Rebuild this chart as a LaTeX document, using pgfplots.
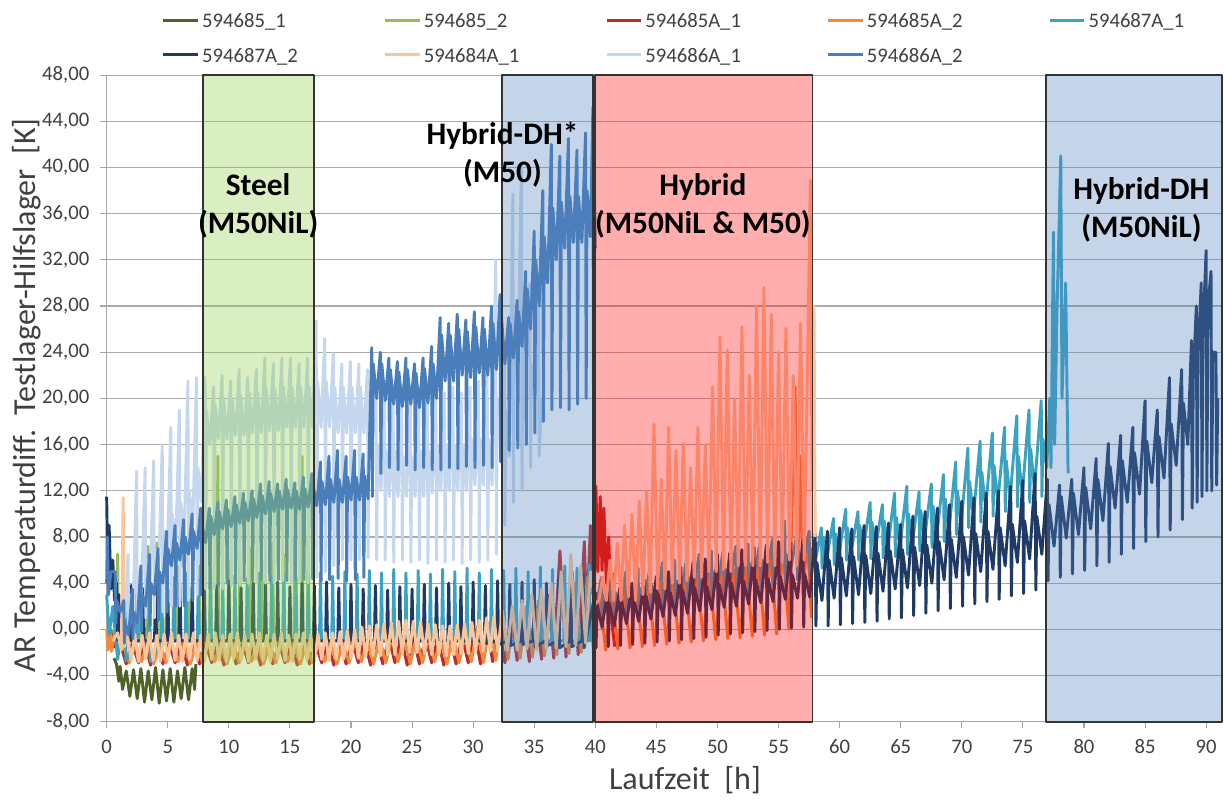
\documentclass[border=0pt]{standalone}
\usepackage{pgfplots}
\pgfplotsset{compat=1.18}
\usepackage{fontspec}
\setmainfont{Carlito}
\definecolor{cA}{HTML}{4F6228}
\definecolor{cB}{HTML}{9BBB59}
\definecolor{cC}{HTML}{BE2B2B}
\definecolor{cD}{HTML}{F08A3C}
\definecolor{cE}{HTML}{3BA3C2}
\definecolor{cF}{HTML}{1F3A64}
\definecolor{cG}{HTML}{FAC59A}
\definecolor{cH}{HTML}{C5D7EE}
\definecolor{cI}{HTML}{4A7EBB}
\definecolor{boxgreen}{HTML}{92D050}
\definecolor{boxblue}{HTML}{4F81BD}
\definecolor{boxred}{HTML}{FF0000}
\definecolor{axisgray}{HTML}{A6A6A6}
\definecolor{gridgray}{HTML}{ABABAB}
\definecolor{txtgray}{HTML}{404040}
\begin{document}
\begin{tikzpicture}
\begin{axis}[
  scale only axis, width=836.5pt, height=485pt,
  xmin=0, xmax=91.3, ymin=-8, ymax=48,
  clip=false,
  xtick={0,5,...,90}, ytick={-8,-4,...,48},
  axis x line*=bottom, axis y line*=left,
  axis line style={draw=axisgray, line width=0.8pt, -},
  tick align=outside, major tick length=5pt,
  tick style={draw=axisgray, line width=0.8pt},
  ymajorgrids, grid style={draw=gridgray, line width=0.8pt},
  /pgf/number format/assume math mode=true,
  yticklabel={\pgfmathprintnumber[fixed,fixed zerofill,precision=2,use comma]{\tick}},
  ticklabel style={font=\fontsize{15.5}{18}\selectfont, text=txtgray},
  yticklabel style={xshift=-4.5pt},
  xticklabel style={yshift=-5pt},
  xlabel={Laufzeit\ \ [h]},
  ylabel={AR Temperaturdiff.\ \ Testlager-Hilfslager\ \ [K]},
  every axis x label/.style={at={(axis description cs:0.5185,-0.091)}, anchor=center, font=\fontsize{24}{29}\selectfont, text=txtgray},
  every axis y label/.style={at={(axis description cs:-0.0715,0.505)}, anchor=center, rotate=90, font=\fontsize{24}{29}\selectfont, text=txtgray},
  legend columns=5,
  legend cell align=left,
  legend style={at={(axis description cs:0.0493,1.1048)}, anchor=north west, draw=none, fill=none,
    font=\fontsize{15.5}{19}\selectfont, text=txtgray, inner sep=0pt, row sep=7pt,
    /tikz/every even column/.append style={column sep=0pt}},
  legend image code/.code={\draw[#1, line width=2.2pt] (0pt,0pt) -- (26pt,0pt);},
  every axis plot/.append style={line width=2.2pt, line join=round, mark=none},
]
% 594685_1
\addplot[cA] coordinates {(0.6,-2.5)(0.8,-3.0)(1.0,-4.5)(1.1,-3.2)(1.3,-5.2)(1.6,-3.6)(1.9,-5.8)(2.2,-3.5)(2.5,-6.0)(2.8,-3.4)(3.1,-6.3)(3.4,-3.6)(3.7,-6.1)(4.0,-3.3)(4.3,-6.4)(4.6,-3.5)(4.9,-6.2)(5.2,-3.4)(5.5,-6.3)(5.8,-3.6)(6.1,-6.0)(6.4,-3.3)(6.7,-6.1)(7.0,-3.4)(7.2,-5.2)(7.3,-3.0)};
\addlegendentry{\makebox[134pt][l]{\strut 594685\_1}}
% 594685_2
\addplot[cB] coordinates {(0.5,0)(0.83,-1)(0.9,6.5)(0.97,-1)(1.73,-1)(1.8,3)(1.87,-1)(2.73,-1)(2.8,4.5)(2.87,-1)(3.33,-1)(3.4,7.2)(3.47,-1)(4.03,-1)(4.1,7.5)(4.17,-1)(4.83,-1)(4.9,5)(4.97,-1)(5.73,-1)(5.8,5.5)(5.87,-1)(6.63,-1)(6.7,6)(6.77,-1)(7.53,-1)(7.6,5.5)(7.67,-1)(8.43,-1)(8.5,6.5)(8.57,-1)(9.03,-1)(9.1,15)(9.17,-1)(9.93,-1)(10,6)(10.07,-1)(10.83,-1)(10.9,6.5)(10.97,-1)(11.73,-1)(11.8,7)(11.87,-1)(12.63,-1)(12.7,6)(12.77,-1)(13.53,-1)(13.6,7.5)(13.67,-1)(14.43,-1)(14.5,6.5)(14.57,-1)(15.33,-1)(15.4,8)(15.47,-1)(15.93,-1)(16.0,15)(16.07,-1)(16.43,-1)(16.5,8)(16.57,-1)(16.8,-1)};
\addlegendentry{\makebox[134pt][l]{\strut 594685\_2}}
% 594685A_1
\addplot[cC] coordinates {(0.3,0)(0.6,-1.5)(1.1,-1.2)(1.6,-3.0)(2.1,-1.2)(2.6,-2.9)(3.1,-1.2)(3.6,-3.1)(4.1,-1.2)(4.6,-3.0)(5.1,-1.2)(5.6,-2.9)(6.1,-1.2)(6.6,-3.1)(7.1,-1.2)(7.6,-3.0)(8.1,-1.2)(8.6,-2.9)(9.1,-1.2)(9.6,-3.1)(10.1,-1.2)(10.6,-3.0)(11.1,-1.2)(11.6,-2.9)(12.1,-1.2)(12.6,-3.1)(13.1,-1.2)(13.6,-3.0)(14.1,-1.2)(14.6,-2.9)(15.1,-1.2)(15.6,-3.1)(16.1,-1.2)(16.6,-3.0)(17.1,-1.2)(17.6,-2.9)(18.1,-1.2)(18.6,-3.1)(19.1,-1.2)(19.6,-3.0)(20.1,-1.0)(20.6,-2.9)(21.1,-0.9)(21.6,-3.1)(22.1,-0.8)(22.6,-3.0)(23.1,-0.7)(23.6,-2.9)(24.1,-0.6)(24.6,-3.1)(25.1,-0.6)(25.6,-3.0)(26.1,-0.7)(26.6,-2.9)(27.1,-0.8)(27.6,-3.1)(28.1,-0.7)(28.6,-3.0)(29.1,-0.6)(29.6,-2.9)(30.1,0.0)(30.6,-3.0)(31.1,0.2)(31.6,-2.8)(32.1,0.5)(32.6,-2.9)(33.1,1.0)(33.6,-2.7)(34.1,1.5)(34.6,-2.8)(35.1,2.0)(35.6,-2.6)(36.1,3.0)(36.6,-2.5)(37.1,6.8)(37.6,-2.4)(38.1,5.0)(38.6,-2.2)(39.1,7.6)(39.3,1)(39.6,9)(39.8,3)(40.05,12.4)(40.2,5)(40.4,11.5)(40.55,5.1)(40.7,10.5)(40.9,4)(41.1,8)(41.3,1)(41.6,-1.5)};
\addlegendentry{\makebox[134pt][l]{\strut 594685A\_1}}
% 594685A_2
\addplot[cD] coordinates {(0,0)(0.1,-1.8)(0.25,0.2)(0.4,-1.9)(0.6,-0.5)(1.35,-1.2)(1.85,-2.9)(2.35,-1.2)(2.85,-2.8)(3.35,-1.2)(3.85,-3.0)(4.35,-1.2)(4.85,-2.9)(5.35,-1.2)(5.85,-2.8)(6.35,-1.2)(6.85,-3.0)(7.35,-1.2)(7.85,-2.9)(8.35,-1.2)(8.85,-2.8)(9.35,-1.2)(9.85,-3.0)(10.35,-1.2)(10.85,-2.9)(11.35,-1.2)(11.85,-2.8)(12.35,-1.2)(12.85,-3.0)(13.35,-1.2)(13.85,-2.9)(14.35,-1.2)(14.85,-2.8)(15.35,-1.2)(15.85,-3.0)(16.35,-1.2)(16.85,-2.9)(17.35,-1.2)(17.85,-2.8)(18.35,-1.2)(18.85,-3.0)(19.35,-1.2)(19.85,-2.9)(20.35,-1.0)(20.85,-2.8)(21.35,-0.9)(21.85,-3.0)(22.35,-0.8)(22.85,-2.9)(23.35,-0.7)(23.85,-2.8)(24.35,-0.6)(24.85,-3.0)(25.35,-0.6)(25.85,-2.9)(26.35,-0.7)(26.85,-2.8)(27.35,-0.7)(27.85,-3.0)(28.35,-0.6)(28.85,-2.9)(29.35,-0.4)(29.85,-2.8)(30.35,0.3)(30.85,-2.9)(31.35,0.6)(31.85,-2.7)(32.35,1.0)(32.85,-2.6)(33.35,1.5)(33.85,-2.5)(34.35,2.0)(34.85,-2.4)(35.35,2.5)(35.85,-2.3)(36.35,3.0)(36.85,-2.2)(37.35,3.6)(37.85,-2.1)(38.35,4.0)(38.85,-2.0)(39.35,4.5)(39.85,-1.9)(40.35,3.0)(40.85,-1.8)(41.35,3.2)(41.85,-1.7)(42.35,3.4)(42.85,-1.6)(43.35,3.6)(43.85,-1.5)(44.35,3.8)(44.85,-1.4)(45.35,4.0)(45.85,-1.3)(46.35,4.2)(46.85,-1.2)(47.35,4.4)(47.85,-1.1)(48.35,4.6)(48.85,-1.0)(49.35,4.8)(49.85,-0.9)(50.35,5.0)(50.85,-0.8)(51.35,5.2)(51.85,-0.7)(52.35,5.6)(52.85,-0.6)(53.35,6.0)(53.85,-0.5)(54.35,6.5)(54.85,-0.4)(55.35,7.0)(55.85,0.0)(56.35,21.0)(56.55,5)(56.8,15)(57.0,3)(57.35,8)(57.7,1)};
\addlegendentry{\makebox[134pt][l]{\strut 594685A\_2}}
% 594687A_1
\addplot[cE] coordinates {(0,3)(0.2,-0.5)(0.5,2)(0.9,-2.6)(1.1,-1)
(1.42,-1)(1.5,4.0)(1.58,-2.7)(2.42,-1)(2.5,4.5)(2.58,-1)(3.42,-1)(3.5,4.3)(3.58,-2.8)(4.42,-1)(4.5,4.7)(4.58,-1)(5.42,-1)(5.5,4.5)(5.58,-1)(6.42,-1)(6.5,4.9)(6.58,-1)(7.42,-1)(7.5,4.4)(7.58,-1)(8.42,-1)(8.5,4.8)(8.58,-1)(9.42,-1)(9.5,4.5)(9.58,-1)(10.42,-1)(10.5,4.7)(10.58,-1)(11.42,-1)(11.5,4.4)(11.58,-1)(12.42,-1)(12.5,4.9)(12.58,-1)(13.42,-1)(13.5,4.6)(13.58,-1)(14.42,-1)(14.5,4.8)(14.58,-1)(15.42,-1)(15.5,4.5)(15.58,-1)(16.42,-1)(16.5,4.7)(16.58,-1)(17.42,-1)(17.5,4.9)(17.58,-1)(18.42,-1)(18.5,4.6)(18.58,-1)(19.42,-1)(19.5,5.0)(19.58,-1)(20.42,-1)(20.5,4.8)(20.58,-1)(21.42,-1)(21.5,5.1)(21.58,-1)(22.42,-1)(22.5,4.9)(22.58,-1)(23.42,-1)(23.5,5.2)(23.58,-1)(24.42,-1)(24.5,4.9)(24.58,-1)(25.42,-1)(25.5,5.1)(25.58,-1)(26.42,-1)(26.5,4.8)(26.58,-1)(27.42,-1)(27.5,5.2)(27.58,-1)(28.42,-1)(28.5,5.0)(28.58,-1)(29.42,-1)(29.5,5.3)(29.58,-1)(30.42,-1)(30.5,4.9)(30.58,-1)(31.42,-1)(31.5,5.2)(31.58,-1)(32.42,-1)(32.5,5.1)(32.58,-1)(33.42,-1)(33.5,5.3)(33.58,-1)(34.42,-1)(34.5,5.0)(34.58,-1)(35.42,-1)(35.5,5.4)(35.58,-1)(36.42,-1)(36.5,5.2)(36.58,-1)(37.42,-1)(37.5,5.5)(37.58,-1)(38.42,-1)(38.5,5.3)(38.58,-1)(39.42,-1)(39.5,5.6)(39.58,-1)
(40.5,4.5)(40.56,0.0)(40.64,3.0)(40.95,1.5)(41.5,4.8)(41.56,0.2)(41.64,3.2)(41.95,1.7)(42.5,5.0)(42.56,0.5)(42.64,3.4)(42.95,1.9)(43.5,5.3)(43.56,0.7)(43.64,3.6)(43.95,2.1)(44.5,5.5)(44.56,1.0)(44.64,3.8)(44.95,2.3)(45.5,5.8)(45.56,1.2)(45.64,4.0)(45.95,2.5)(46.5,6.0)(46.56,1.5)(46.64,4.2)(46.95,2.7)(47.5,6.3)(47.56,1.8)(47.64,4.5)(47.95,3.0)(48.5,6.5)(48.56,2.0)(48.64,4.7)(48.95,3.2)(49.5,6.8)(49.56,2.3)(49.64,5.0)(49.95,3.5)(50.5,7.0)(50.56,2.6)(50.64,5.2)(50.95,3.7)(51.5,7.2)(51.56,2.9)(51.64,5.5)(51.95,4.0)(52.5,7.4)(52.56,3.2)(52.64,5.7)(52.95,4.2)(53.5,7.6)(53.56,3.5)(53.64,6.0)(53.95,4.5)(54.5,7.8)(54.56,3.8)(54.64,6.2)(54.95,4.7)(55.5,9.4)(55.56,4.0)(55.64,6.5)(55.95,5.0)(56.5,8.2)(56.56,4.3)(56.64,6.7)(56.95,5.2)(57.5,8.5)(57.56,4.6)(57.64,7.0)(57.95,5.5)
(58.5,8.8)(58.56,5.3)(58.64,8.0)(58.95,6.2)(59.5,9.6)(59.56,5.6)(59.64,8.3)(59.95,6.5)(60.5,10.4)(60.56,6.0)(60.64,8.8)(60.95,6.8)(61.5,10.2)(61.56,6.0)(61.64,9.0)(61.95,7.0)(62.5,11.0)(62.56,6.1)(62.64,9.3)(62.95,7.1)(63.5,10.8)(63.56,6.2)(63.64,9.4)(63.95,7.2)(64.5,11.8)(64.56,6.3)(64.64,9.7)(64.95,7.3)(65.5,12.4)(65.56,6.5)(65.64,10.0)(65.95,7.5)(66.5,11.9)(66.56,6.8)(66.64,10.3)(66.95,7.8)(67.5,12.6)(67.56,7.1)(67.64,10.7)(67.95,8.1)(68.5,13.4)(68.56,7.6)(68.64,11.3)(68.95,8.6)(69.5,14.5)(69.56,8.2)(69.64,12.0)(69.95,9.2)(70.5,15.7)(70.56,8.8)(70.64,12.8)(70.95,9.8)(71.5,16.3)(71.56,9.3)(71.64,13.6)(71.95,10.5)(72.5,17.0)(72.56,9.8)(72.64,14.2)(72.95,11.0)(73.5,17.5)(73.56,10.2)(73.64,14.6)(73.95,11.3)(74.5,18.5)(74.56,10.6)(74.64,15.0)(74.95,11.7)(75.5,19.0)(75.56,11.0)(75.64,15.6)(75.95,12.2)(76.5,19.8)(76.56,11.5)(76.64,16.5)(76.95,14)
(77.2,20)(77.3,14)(77.5,34.4)(77.6,16)(77.8,28)(78.1,41)(78.2,20)(78.5,30)(78.7,13.5)};
\addlegendentry{\makebox[134pt][l]{\strut 594687A\_1}}
% 594687A_2
\addplot[cF] coordinates {(0,11.5)(0.1,4)(0.2,9)(0.35,3.5)(0.5,6)(0.65,2.5)(0.8,4)(0.92,-1.0)
(1,3.0)(1.08,-1)(1.92,-1)(2,3.8)(2.08,-1)(2.92,-1)(3,3.5)(3.08,-1)(3.92,-1)(4,4.0)(4.08,-1)(4.92,-1)(5,3.6)(5.08,-1)(5.92,-1)(6,4.1)(6.08,-1)(6.92,-1)(7,3.7)(7.08,-1)(7.92,-1)(8,4.0)(8.08,-1)(8.92,-1)(9,3.8)(9.08,-1)(9.92,-1)(10,4.2)(10.08,-1)(10.92,-1)(11,3.6)(11.08,-1)(11.92,-1)(12,4.0)(12.08,-1)(12.92,-1)(13,3.9)(13.08,-1)(13.92,-1)(14,4.1)(14.08,-1)(14.92,-1)(15,3.7)(15.08,-1)(15.92,-1)(16,4.0)(16.08,-1)(16.92,-1)(17,3.8)(17.08,-1)(17.92,-1)(18,4.1)(18.08,-1)(18.92,-1)(19,3.6)(19.08,-1)(19.92,-1)(20,3.9)(20.08,-1)(20.92,-1)(21,3.5)(21.08,-1)(21.92,-1)(22,3.8)(22.08,-1)(22.92,-1)(23,3.4)(23.08,-1)(23.92,-1)(24,3.7)(24.08,-1)(24.92,-1)(25,3.5)(25.08,-1)(25.92,-1)(26,3.9)(26.08,-1)(26.92,-1)(27,3.6)(27.08,-1)(27.92,-1)(28,4.0)(28.08,-1)(28.92,-1)(29,3.7)(29.08,-1)(29.92,-1)(30,4.1)(30.08,-1)(30.92,-1)(31,3.8)(31.08,-1.2)(31.92,-1)(32,4.2)(32.08,-1.3)(32.92,-1)(33,3.9)(33.08,-1.4)(33.92,-1)(34,4.1)(34.08,-1.3)(34.92,-1)(35,4.3)(35.08,-1.5)(35.92,-1)(36,4.0)(36.08,-1.4)(36.92,-1)(37,4.4)(37.08,-1.6)(37.92,-1)(38,4.2)(38.08,-1.5)(38.92,-1)(39,4.8)(39.08,-1.6)(39.5,0.5)
(40,3.2)(40.06,-1.6)(40.14,2.2)(40.55,0.2)(41,3.3)(41.06,-1.5)(41.14,2.3)(41.55,0.3)(42,3.6)(42.06,-1.4)(42.14,2.5)(42.55,0.5)(43,4.0)(43.06,-1.3)(43.14,2.7)(43.55,0.7)(44,4.3)(44.06,-1.2)(44.14,2.9)(44.55,0.9)(45,4.6)(45.06,-1.1)(45.14,3.1)(45.55,1.1)(46,5.0)(46.06,-1.0)(46.14,3.2)(46.55,1.2)(47,5.4)(47.06,-0.9)(47.14,3.4)(47.55,1.4)(48,5.8)(48.06,-0.8)(48.14,3.6)(48.55,1.6)(49,6.1)(49.06,-0.7)(49.14,3.7)(49.55,1.7)(50,6.5)(50.06,-0.5)(50.14,3.9)(50.55,1.9)(51,6.6)(51.06,-0.4)(51.14,4.0)(51.55,2.0)(52,6.9)(52.06,-0.3)(52.14,4.2)(52.55,2.2)(53,7.1)(53.06,-0.2)(53.14,4.3)(53.55,2.3)(54,7.3)(54.06,-0.1)(54.14,4.4)(54.55,2.4)(55,7.6)(55.06,0.0)(55.14,4.6)(55.55,2.6)(56,7.5)(56.06,0.1)(56.14,4.7)(56.55,2.7)(57,7.8)(57.06,0.2)(57.14,4.8)(57.55,2.8)
(58,8.3)(58.06,0.3)(58.14,5.8)(58.55,2.5)(59,8.5)(59.06,0.3)(59.14,6.0)(59.55,2.7)(60,8.8)(60.06,0.4)(60.14,6.2)(60.55,2.9)(61,8.7)(61.06,0.5)(61.14,6.3)(61.55,3.0)(62,9.0)(62.06,0.6)(62.14,6.4)(62.55,3.1)(63,8.9)(63.06,0.7)(63.14,6.6)(63.55,3.3)(64,9.2)(64.06,0.9)(64.14,6.8)(64.55,3.5)(65,9.1)(65.06,1.0)(65.14,6.9)(65.55,3.6)(66,9.8)(66.06,1.2)(66.14,7.1)(66.55,3.8)(67,10.2)(67.06,1.4)(67.14,7.3)(67.55,4.0)(68,10.5)(68.06,1.6)(68.14,7.6)(68.55,4.3)(69,10.8)(69.06,1.8)(69.14,7.8)(69.55,4.5)(70,11.1)(70.06,2.0)(70.14,8.0)(70.55,4.7)(71,11.4)(71.06,2.2)(71.14,8.3)(71.55,5.0)(72,11.8)(72.06,2.4)(72.14,8.5)(72.55,5.2)(73,12.0)(73.06,2.6)(73.14,8.8)(73.55,5.5)(74,12.4)(74.06,2.9)(74.14,9.1)(74.55,5.8)(75,12.9)(75.06,3.1)(75.14,9.4)(75.55,6.1)(76,13.5)(76.06,3.4)(76.14,9.8)(76.55,6.5)
(77,13.0)(77.06,4.2)(77.14,10.8)(77.55,7.2)(78,12.5)(78.06,4.5)(78.14,11.5)(78.55,7.9)(79,13.0)(79.06,4.8)(79.14,11.8)(79.55,8.2)(80,14.0)(80.06,5.1)(80.14,12.3)(80.55,8.7)(81,14.8)(81.06,5.5)(81.14,13.0)(81.55,9.4)(82,16.1)(82.06,5.8)(82.14,14.1)(82.55,10.5)(83,16.8)(83.06,6.5)(83.14,14.6)(83.55,11.0)(84,17.5)(84.06,7.0)(84.14,15.3)(84.55,11.7)(85,19.8)(85.06,7.6)(85.14,16.3)(85.55,12.7)(86,19.0)(86.06,8.0)(86.14,16.7)(86.55,13.1)(87,21.8)(87.06,8.6)(87.14,17.8)(87.55,14.2)(88,22.5)(88.06,9.5)(88.14,19.6)(88.5,16.0)
(88.8,25)(88.86,10.5)(88.95,22)(89.2,28)(89.26,11)(89.35,24)(89.6,30)(89.66,11.5)(89.75,26)(90.0,32.8)(90.06,12)(90.15,28)(90.4,31)(90.46,12)(90.55,24)(90.8,24)(90.86,12.5)(90.95,20)};
\addlegendentry{\makebox[134pt][l]{\strut 594687A\_2}}
% 594684A_1
\addplot[cG] coordinates {(0.5,-1)(0.9,-0.3)(1.2,-1.8)(1.35,11.4)(1.45,-1.5)(1.7,-0.5)
(2.0,-2.7)(2.3,-0.4)(2.6,-2.8)(2.9,-0.5)(3.2,-2.6)(3.5,-0.3)(3.8,-2.7)(4.1,-0.5)(4.4,-2.8)(4.7,-0.4)(5.0,-2.6)(5.3,-0.3)(5.6,-2.7)(5.9,-0.5)(6.2,-2.8)(6.5,-0.4)(6.8,-2.6)(7.1,-0.3)(7.4,-2.7)(7.7,-0.5)(8.0,-2.8)(8.3,-0.4)(8.6,-2.6)(8.9,-0.3)(9.2,-2.7)(9.5,-0.5)(9.8,-2.8)(10.1,-0.4)(10.4,-2.6)(10.7,-0.3)(11.0,-2.7)(11.3,-0.5)(11.6,-2.8)(11.9,-0.4)(12.2,-2.6)(12.5,-0.3)(12.8,-2.7)(13.1,-0.5)(13.4,-2.8)(13.7,-0.4)(14.0,-2.6)(14.3,-0.3)(14.6,-2.7)(14.9,-0.5)(15.2,-2.8)(15.5,-0.4)(15.8,-2.6)(16.1,-0.3)(16.4,-2.7)(16.7,-0.5)(17.0,-2.8)(17.3,-0.4)(17.6,-2.6)(17.9,-0.3)(18.2,-2.7)(18.5,-0.3)(18.8,-2.6)(19.1,-0.2)(19.4,-2.6)(19.7,-0.1)(20.0,-2.5)(20.3,0.0)(20.6,-2.5)(20.9,0.2)(21.2,-2.4)(21.5,0.3)(21.8,-2.3)(22.1,0.4)(22.4,-2.3)(22.7,0.5)(23.0,-2.2)(23.3,0.6)(23.6,-2.2)(23.9,0.7)(24.2,-2.1)(24.5,0.8)(24.8,-2.0)(25.1,0.7)(25.4,-2.0)(25.7,0.7)(26.0,-2.1)(26.3,0.5)(26.6,-2.2)(26.9,0.4)(27.2,-2.2)(27.5,0.3)(27.8,-2.3)(28.1,0.3)(28.4,-2.2)(28.7,0.4)(29.0,-2.1)(29.3,0.5)(29.6,-2.1)(29.9,0.6)(30.2,-2.0)(30.5,0.8)(30.8,-1.9)(31.1,1.0)(31.4,-1.9)(31.7,1.1)(32.0,-1.9)
(32.4,1.6)(32.8,-1.8)(33.2,2.0)(33.6,-1.8)(34.0,2.5)(34.4,-1.7)(34.8,3.0)(35.2,-1.8)(35.6,3.5)(36.0,-1.7)(36.4,4.0)(36.8,-1.6)(37.2,5.0)(37.6,-1.5)(38.0,6.5)(38.4,-1.4)(38.8,5.5)(39.2,-1.2)(39.6,5.0)(40.0,2.2)
(40.3,2.5)(40.6,4.5)(40.9,2.5)(41.2,6)(41.5,2.5)(41.8,7.5)(42.1,2.5)(42.4,9)(42.7,2.8)(43.0,10)(43.3,2.5)(43.6,11.1)(43.9,3)(44.2,12)(44.5,3.2)(44.8,17.8)(45.1,3.5)(45.4,13)(45.7,3.5)(46.0,17.5)(46.3,4)(46.6,15.5)(46.9,4)(47.2,16.1)(47.5,4.2)(47.8,14)(48.1,4.5)(48.4,17.5)(48.7,4.5)(49.0,16)(49.3,5)(49.6,21)(49.9,5)(50.2,25.3)(50.5,5.2)(50.8,24.2)(51.1,5)(51.4,20)(51.7,5.5)(52.0,26.2)(52.3,5.5)(52.6,22)(52.9,5.5)(53.2,28)(53.5,5.5)(53.8,29.6)(54.1,5.8)(54.4,27.3)(54.7,5.5)(55.0,24)(55.3,5.8)(55.6,26.1)(55.9,6)(56.2,22)(56.5,5.5)(56.8,26.5)(57.1,6)(57.4,25)(57.6,38.9)(57.75,12)(57.9,28)(58.0,8)};
\addlegendentry{\makebox[134pt][l]{\strut 594684A\_1}}
% 594686A_1
\addplot[cH] coordinates {(1.5,1)(1.75,6.5)(1.8,0.0)(1.87,3.0)(2.15,1.5)(2.45,13.7)(2.5,0.5)(2.57,5.0)(2.85,3.0)(3.15,14.0)(3.2,1.0)(3.27,6.0)(3.55,4.0)(3.85,14.6)(3.9,1.0)(3.97,7.0)(4.25,5.0)(4.55,16.0)(4.6,1.5)(4.67,8.5)(4.95,6.0)(5.25,17.5)(5.3,2.0)(5.37,10.0)(5.65,7.0)(5.95,19.0)(6.0,2.0)(6.07,11.0)(6.35,8.0)(6.65,21.5)(6.7,2.5)(6.77,12.0)(7.05,9.0)(7.35,21.8)(7.4,3.0)(7.47,14.0)(7.75,11.0)(8.05,21.8)(8.1,3.5)(8.17,19.0)(8.45,16.0)(8.75,21.0)(8.8,3.5)(8.87,19.5)(9.15,16.5)(9.45,22.0)(9.5,3.5)(9.57,20.0)(9.85,16.5)(10.15,21.5)(10.2,3.8)(10.27,20.0)(10.55,16.8)(10.85,22.5)(10.9,3.8)(10.97,20.3)(11.25,16.8)(11.55,21.8)(11.6,4.0)(11.67,20.5)(11.95,17.0)(12.25,22.5)(12.3,4.0)(12.37,20.5)(12.65,17.0)(12.95,23.5)(13.0,4.0)(13.07,20.8)(13.35,17.2)(13.65,23.0)(13.7,4.0)(13.77,20.8)(14.05,17.2)(14.35,23.5)(14.4,4.2)(14.47,21.0)(14.75,17.5)(15.05,23.5)(15.1,4.0)(15.17,21.0)(15.45,17.5)(15.75,23.0)(15.8,4.2)(15.87,21.0)(16.15,17.5)(16.45,23.5)(16.5,4.0)(16.57,21.0)(16.85,17.5)(17.15,26.7)(17.2,4.5)(17.27,21.5)(17.55,17.5)(17.85,25.2)(17.9,5.0)(17.97,21.5)(18.25,17.5)(18.55,23.9)(18.6,5.5)(18.67,21.0)(18.95,17.0)(19.25,23.0)(19.3,6.0)(19.37,21.0)(19.65,17.0)(19.95,23.2)(20.0,6.0)(20.07,21.0)(20.35,17.0)(20.65,23.0)(20.7,6.0)(20.77,21.0)(21.05,17.0)(21.35,22.5)(21.4,6.2)(21.47,20.5)(21.75,16.5)(22.05,21.0)(22.1,6.0)(22.17,16.0)(22.45,12.0)(22.75,20.5)(22.8,6.0)(22.87,15.5)(23.15,11.5)(23.45,20.5)(23.5,5.8)(23.57,15.5)(23.85,11.5)(24.15,20.0)(24.2,6.0)(24.27,15.0)(24.55,11.5)(24.85,20.5)(24.9,5.8)(24.97,15.0)(25.25,11.5)(25.55,20.0)(25.6,6.0)(25.67,15.5)(25.95,11.5)(26.25,20.5)(26.3,5.7)(26.37,15.5)(26.65,11.8)(26.95,21.0)(27.0,6.0)(27.07,16.0)(27.35,12.0)(27.65,20.5)(27.7,5.8)(27.77,16.0)(28.05,12.0)(28.35,21.0)(28.4,6.0)(28.47,16.0)(28.75,12.0)(29.05,20.5)(29.1,5.7)(29.17,16.0)(29.45,12.0)(29.75,21.0)(29.8,6.0)(29.87,16.5)(30.15,12.5)(30.45,21.5)(30.5,5.8)(30.57,16.5)(30.85,12.5)(31.15,22.0)(31.2,6.0)(31.27,16.5)(31.55,12.5)(31.85,32.0)(31.9,6.5)(31.97,20.0)(32.25,16.0)(32.55,24.0)(32.6,9.0)(32.67,19.0)(32.95,15.0)(33.25,37.7)(33.3,11.0)(33.37,26.0)(33.65,22.0)(33.95,40.2)(34.0,12.0)(34.07,28.0)(34.35,24.0)(34.65,30.0)(34.7,14.0)(34.77,23.0)(35.05,20.0)(35.35,28.0)(35.4,15.0)(35.6,20.0)};
\addlegendentry{\makebox[134pt][l]{\strut 594686A\_1}}
% 594686A_2
\addplot[cI] coordinates {(0,4)(0.05,8)(0.15,3)(0.35,5)(0.7,5.0)(0.75,0.5)(0.82,2.5)(1.1,1.5)(1.4,2.5)(1.45,-1.2)(1.52,0.5)(1.8,-0.5)(2.1,3.5)(2.15,-0.8)(2.22,1.5)(2.5,0.5)(2.8,5.5)(2.85,-0.2)(2.92,3.0)(3.2,2.0)(3.5,6.5)(3.55,0.3)(3.62,4.0)(3.9,3.0)(4.2,7.0)(4.25,0.8)(4.32,5.0)(4.6,4.0)(4.9,8.5)(4.95,1.5)(5.02,7.0)(5.3,5.5)(5.6,9.0)(5.65,2.0)(5.72,7.5)(6.0,6.0)(6.3,9.5)(6.35,2.0)(6.42,8.0)(6.7,6.5)(7.0,10.0)(7.05,2.5)(7.12,8.5)(7.4,7.0)(7.7,10.5)(7.75,3.0)(7.82,9.0)(8.1,7.5)(8.4,10.5)(8.45,3.5)(8.52,9.8)(8.8,8.2)(9.1,11.0)(9.15,3.8)(9.22,10.2)(9.5,8.7)(9.8,11.2)(9.85,4.0)(9.92,10.4)(10.2,8.9)(10.5,11.5)(10.55,4.0)(10.62,10.8)(10.9,9.2)(11.2,11.8)(11.25,4.2)(11.32,11.0)(11.6,9.4)(11.9,12.0)(11.95,4.2)(12.02,11.3)(12.3,9.7)(12.6,12.6)(12.65,4.3)(12.72,11.6)(13.0,10.0)(13.3,12.8)(13.35,4.2)(13.42,11.8)(13.7,10.2)(14.0,12.6)(14.05,4.3)(14.12,12.0)(14.4,10.4)(14.7,13.0)(14.75,4.2)(14.82,12.1)(15.1,10.5)(15.4,12.7)(15.45,4.4)(15.52,12.0)(15.8,10.4)(16.1,13.2)(16.15,4.3)(16.22,12.2)(16.5,10.6)(16.8,13.5)(16.85,4.4)(16.92,12.3)(17.2,10.7)(17.5,14.5)(17.55,4.2)(17.62,12.8)(17.9,10.8)(18.2,15.0)(18.25,4.3)(18.32,13.0)(18.6,11.0)(18.9,15.5)(18.95,4.4)(19.02,13.0)(19.3,11.0)(19.6,15.0)(19.65,4.2)(19.72,13.2)(20.0,11.2)(20.3,15.5)(20.35,4.3)(20.42,13.2)(20.7,11.2)(21.0,15.2)(21.05,4.5)(21.12,13.3)(21.4,11.3)(21.7,24.4)(21.75,11.5)(21.82,23.0)(22.1,20.0)(22.4,24.0)(22.45,13.5)(22.52,23.0)(22.8,19.8)(23.1,23.5)(23.15,14.0)(23.22,22.5)(23.5,19.5)(23.8,23.2)(23.85,13.8)(23.92,22.3)(24.2,19.3)(24.5,23.5)(24.55,14.2)(24.62,22.5)(24.9,19.5)(25.2,23.0)(25.25,13.8)(25.32,22.2)(25.6,19.2)(25.9,23.5)(25.95,14.0)(26.02,22.6)(26.3,19.6)(26.6,24.5)(26.65,13.8)(26.72,23.0)(27.0,20.0)(27.3,27.0)(27.35,13.8)(27.42,25.5)(27.7,21.5)(28.0,26.5)(28.05,14.0)(28.12,25.5)(28.4,21.5)(28.7,27.3)(28.75,13.9)(28.82,26.0)(29.1,22.0)(29.4,26.8)(29.45,14.1)(29.52,25.8)(29.8,21.8)(30.1,27.5)(30.15,14.0)(30.22,26.2)(30.5,22.2)(30.8,27.0)(30.85,14.2)(30.92,26.0)(31.2,22.0)(31.5,28.0)(31.55,14.0)(31.62,26.5)(31.9,22.5)(32.2,29.0)(32.25,14.5)(32.32,27.0)(32.6,23.0)(32.9,27.0)(32.95,15.5)(33.02,26.5)(33.3,23.5)(33.6,28.5)(33.65,15.7)(33.72,27.5)(34.0,24.5)(34.3,31.0)(34.35,16.0)(34.42,29.5)(34.7,26.0)(35.0,34.5)(35.05,17.0)(35.12,32.0)(35.4,28.0)(35.7,38.0)(35.75,18.0)(35.82,34.0)(36.1,30.0)(36.4,42.0)(36.45,19.0)(36.52,36.5)(36.8,32.0)(37.1,41.0)(37.15,19.2)(37.22,37.0)(37.5,33.0)(37.8,42.5)(37.85,19.0)(37.92,37.5)(38.2,33.5)(38.5,41.5)(38.55,19.5)(38.62,37.5)(38.9,33.5)(39.2,43.0)(39.25,20.0)(39.32,38.0)(39.6,34.0)(39.8,45.2)(39.85,20.4)(39.92,38)(40.0,33.0)};
\addlegendentry{\makebox[134pt][l]{\strut 594686A\_2}}
% shaded regions
\addplot[forget plot, fill=boxgreen, fill opacity=0.35, draw=black!80, draw opacity=1, line width=1.4pt] coordinates {(7.86,-8)(7.86,48)(16.99,48)(16.99,-8)} -- cycle;
\addplot[forget plot, fill=boxblue, fill opacity=0.33, draw=black!80, draw opacity=1, line width=1.4pt] coordinates {(32.33,-8)(32.33,48)(39.82,48)(39.82,-8)} -- cycle;
\addplot[forget plot, fill=boxred, fill opacity=0.32, draw=black!80, draw opacity=1, line width=1.4pt] coordinates {(39.96,-8)(39.96,48)(57.78,48)(57.78,-8)} -- cycle;
\addplot[forget plot, fill=boxblue, fill opacity=0.33, draw=black!80, draw opacity=1, line width=1.4pt] coordinates {(76.87,-8)(76.87,48)(91.3,48)(91.3,-8)} -- cycle;
\node[font=\bfseries\fontsize{23.5}{28.5}\selectfont, align=center] at (axis cs:12.4,36.7) {Steel\\(M50NiL)};
\node[font=\bfseries\fontsize{23.5}{28.5}\selectfont, align=center] at (axis cs:32.4,41.1) {Hybrid-DH*\\(M50)};
\node[font=\bfseries\fontsize{23.5}{28.5}\selectfont, align=center] at (axis cs:48.8,36.7) {Hybrid\\(M50NiL \& M50)};
\node[font=\bfseries\fontsize{23.5}{28.5}\selectfont, align=center] at (axis cs:84.7,36.3) {Hybrid-DH\\(M50NiL)};
\end{axis}
\pgfresetboundingbox
\path[use as bounding box] (-80pt,-59.5pt) rectangle (838pt,541.3pt);
\end{tikzpicture}
\end{document}
